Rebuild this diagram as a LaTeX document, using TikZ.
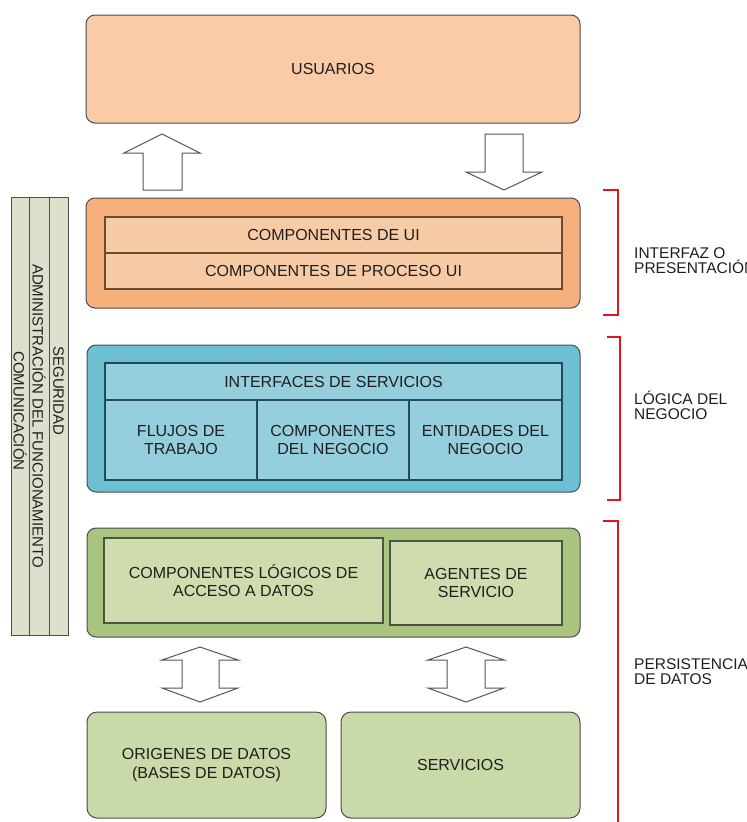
\documentclass[tikz,border=0pt]{standalone}
\usepackage{fontspec}
\setmainfont{Liberation Sans}
\definecolor{txt}{HTML}{1E1E1E}
\definecolor{usufill}{HTML}{FACBA6}
\definecolor{orout}{HTML}{F5B07C}
\definecolor{orin}{HTML}{F8CBA7}
\definecolor{orline}{HTML}{6B4A35}
\definecolor{blout}{HTML}{6DBFD4}
\definecolor{blin}{HTML}{95CFDE}
\definecolor{blline}{HTML}{234A57}
\definecolor{grout}{HTML}{A8C47E}
\definecolor{grin}{HTML}{CFDDAE}
\definecolor{grbox}{HTML}{C9D9A7}
\definecolor{grline}{HTML}{4B5640}
\definecolor{sidefill}{HTML}{DDE0CC}
\definecolor{brk}{HTML}{E0141E}
\definecolor{arrline}{HTML}{555555}
\tikzset{
  outerbox/.style={draw=black!70, line width=1pt, rounded corners=9pt, inner sep=0pt, align=center, text=txt, font=\fontsize{16}{18.5}\selectfont},
  innerbox/.style={draw, line width=1.2pt, inner sep=0pt, align=center, text=txt, font=\fontsize{16}{18.5}\selectfont},
  sidecol/.style={draw=black!70, line width=1pt, fill=sidefill, inner sep=0pt},
  sidetext/.style={rotate=-90, inner sep=0pt, text=txt, font=\fontsize{15}{17}\selectfont},
  layerlabel/.style={anchor=west, align=left, inner sep=0pt, text=txt, font=\fontsize{15.5}{15.5}\selectfont},
  blockarrow/.style={draw=arrline, fill=white, line width=1pt, line join=miter},
  bracketline/.style={draw=brk, line width=2.6pt}
}
\begin{document}
\begin{tikzpicture}[x=1pt,y=-1pt]
\useasboundingbox (0,0) rectangle (747,822);
\clip (0,0) rectangle (747,822);

% Usuarios
\node[outerbox, fill=usufill, minimum width=494pt, minimum height=108pt] (usu) at (333,69) {USUARIOS};

% Arrows between users and presentation
\draw[blockarrow] (143,190) -- (143,153) -- (124,153) -- (162,134) -- (200,153) -- (182,153) -- (182,190) -- cycle;
\draw[blockarrow] (485,134) -- (523,134) -- (523,172) -- (542,172) -- (504,190) -- (466,172) -- (485,172) -- cycle;

% Presentation layer
\node[outerbox, fill=orout, minimum width=494pt, minimum height=110pt] (pres) at (333,253) {};
\node[innerbox, draw=orline, fill=orin, minimum width=457pt, minimum height=36pt] (ui1) at (333.5,235) {COMPONENTES DE UI};
\node[innerbox, draw=orline, fill=orin, minimum width=457pt, minimum height=36pt] (ui2) at (333.5,271) {COMPONENTES DE PROCESO UI};

% Business layer
\node[outerbox, fill=blout, minimum width=493pt, minimum height=147pt] (neg) at (333.5,418.5) {};
\node[innerbox, draw=blline, fill=blin, minimum width=457pt, minimum height=37pt] (isv) at (333.5,381.5) {INTERFACES DE SERVICIOS};
\node[innerbox, draw=blline, fill=blin, minimum width=152pt, minimum height=80pt] (flu) at (181,440) {FLUJOS DE\\TRABAJO};
\node[innerbox, draw=blline, fill=blin, minimum width=152pt, minimum height=80pt] (cne) at (333,440) {COMPONENTES\\DEL NEGOCIO};
\node[innerbox, draw=blline, fill=blin, minimum width=153pt, minimum height=80pt] (ent) at (485.5,440) {ENTIDADES DEL\\NEGOCIO};

% Data layer
\node[outerbox, fill=grout, minimum width=493pt, minimum height=109pt] (per) at (333.5,582.5) {};
\node[innerbox, draw=grline, fill=grin, minimum width=279pt, minimum height=85pt] (cla) at (243.5,580.5) {COMPONENTES LÓGICOS DE\\ACCESO A DATOS};
\node[innerbox, draw=grline, fill=grin, minimum width=172pt, minimum height=84pt] (age) at (476,583) {AGENTES DE\\SERVICIO};

% Double arrows
\draw[blockarrow] (200,647) -- (238,660) -- (219,660) -- (219,688) -- (238,688) -- (200,702) -- (162,688) -- (182,688) -- (182,660) -- (162,660) -- cycle;
\draw[blockarrow] (466,647) -- (504,660) -- (485,660) -- (485,688) -- (504,688) -- (466,702) -- (428,688) -- (447,688) -- (447,660) -- (428,660) -- cycle;

% Bottom boxes
\node[outerbox, fill=grbox, rounded corners=10pt, minimum width=239pt, minimum height=106pt] (ori) at (206.5,765) {ORIGENES DE DATOS\\(BASES DE DATOS)};
\node[outerbox, fill=grbox, rounded corners=10pt, minimum width=239pt, minimum height=106pt] (ser) at (460.5,765) {SERVICIOS};

% Side columns
\node[sidecol, minimum width=18pt, minimum height=438pt] (col1) at (20,416) {};
\node[sidecol, minimum width=20pt, minimum height=438pt] (col2) at (39,416) {};
\node[sidecol, minimum width=19pt, minimum height=438pt] (col3) at (58.5,416) {};
\node[sidetext] (t1) at (20,411) {COMUNICACIÓN};
\node[sidetext] (t2) at (39,416) {ADMINISTRACIÓN DEL FUNCIONAMIENTO};
\node[sidetext] (t3) at (58.5,391) {SEGURIDAD};

% Brackets
\draw[bracketline] (603,190) -- (618,190) -- (618,315) -- (603,315);
\draw[bracketline] (607,337) -- (620,337) -- (620,500) -- (607,500);
\draw[bracketline] (603,521) -- (618,521) -- (618,830);

% Layer labels
\node[layerlabel] (l1) at (634,260.5) {INTERFAZ O\\PRESENTACIÓN};
\node[layerlabel] (l2) at (634,405.5) {LÓGICA DEL\\NEGOCIO};
\node[layerlabel] (l3) at (634,671.5) {PERSISTENCIA\\DE DATOS};
\end{tikzpicture}
\end{document}
